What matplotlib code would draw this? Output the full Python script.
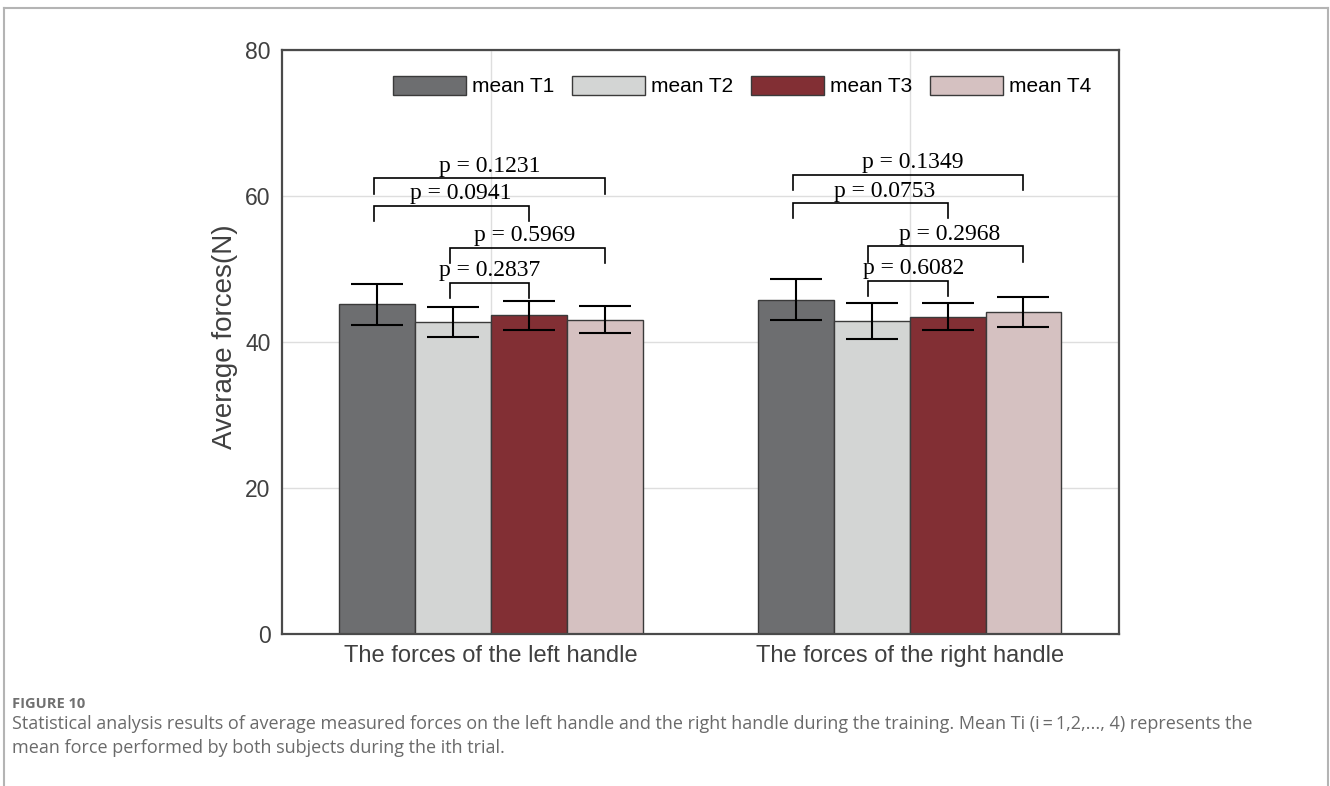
#!/usr/bin/env python3
"""Average handle forces per trial, grouped bars with p-value brackets"""

import numpy as np
import matplotlib
matplotlib.use('Agg')
import matplotlib.pyplot as plt
from matplotlib.lines import Line2D

# data
handles = ['The forces of the left handle', 'The forces of the right handle']
trials = ['mean T1', 'mean T2', 'mean T3', 'mean T4']
mean_t1 = [45.2, 45.8]
mean_t2 = [42.7, 42.9]
mean_t3 = [43.7, 43.5]
mean_t4 = [43.1, 44.1]
err_t1 = [2.8, 2.8]
err_t2 = [2.05, 2.5]
err_t3 = [2.0, 1.9]
err_t4 = [1.8, 2.05]

# significance brackets: handle, first trial, second trial, bracket height, p
br_handle = [0, 0, 0, 0, 1, 1, 1, 1]
br_from = [0, 0, 1, 1, 0, 0, 1, 1]
br_to = [3, 2, 3, 2, 3, 2, 3, 2]
br_top = [62.45, 58.67, 52.88, 48.1, 62.9, 59.03, 53.1, 48.4]
br_p = ['0.1231', '0.0941', '0.5969', '0.2837',
        '0.1349', '0.0753', '0.2968', '0.6082']
br_text_shift = [0.0, 0.021, -0.007, 0.0, 0.011, 0.035, 0.008, 0.013]

caption_title = 'FIGURE 10'
caption_lines = [
  'Statistical analysis results of average measured forces on the left handle and the right handle during the training. Mean Ti (i\u2009=\u20091,2,..., 4) represents the',
  'mean force performed by both subjects during the ith trial.',
]

colors = ['#6d6e70', '#d3d5d4', '#822f34', '#d5c1c1']
edge = '#3a3a3a'
tick_gray = '#404040'

means = [mean_t1, mean_t2, mean_t3, mean_t4]
errs = [err_t1, err_t2, err_t3, err_t4]

fig = plt.figure(figsize=(13.3, 7.86), dpi=100)
ax = fig.add_axes([0.2118, 0.193, 0.6296, 0.7434])

x = np.arange(1, len(handles) + 1)
width = 0.181
offsets = (np.arange(len(trials)) - 1.5) * width

for i in range(len(trials)):
  ax.bar(x + offsets[i], means[i], width, color=colors[i], edgecolor=edge,
         linewidth=1.0, label=trials[i], zorder=2,
         yerr=errs[i], capsize=18.5,
         error_kw=dict(ecolor='black', elinewidth=1.5, capthick=1.5, zorder=3))

leg = 2.1
for k in range(len(br_p)):
  x0 = x[br_handle[k]] + offsets[br_from[k]] - 0.008
  x1 = x[br_handle[k]] + offsets[br_to[k]]
  top = br_top[k]
  ax.plot([x0, x0, x1, x1], [top - leg, top, top, top - leg],
          color='black', linewidth=1.2, zorder=4, solid_joinstyle='miter')
  ax.text((x0 + x1) / 2 + br_text_shift[k], top + 0.9, 'p = ' + br_p[k],
          ha='center', va='baseline', fontsize=17,
          family='Liberation Serif', color='black', zorder=5)

ax.set_xlim(0.5, 2.5)
ax.set_ylim(0, 80)
ax.set_xticks(x)
ax.set_xticklabels(handles)
ax.set_yticks([0, 20, 40, 60, 80])
ax.tick_params(axis='both', length=0, labelsize=16.5, labelcolor=tick_gray,
               pad=8)
for lbl in ax.get_xticklabels():
  lbl.set_fontsize(17)
ax.set_ylabel('Average forces(N)', fontsize=20, color=tick_gray, va='center')
ax.yaxis.set_label_coords(-0.0677, 0.51)

ax.grid(True, color='#dedede', linewidth=1.0)
ax.set_axisbelow(True)
for sp in ax.spines.values():
  sp.set_color('#4a4a4a')
  sp.set_linewidth(1.6)
  sp.set_zorder(6)

ax.legend(loc='center', bbox_to_anchor=(0.5497, 0.938), ncol=4,
          frameon=False, fontsize=15, handlelength=3.5, handleheight=1.0,
          handletextpad=0.3, columnspacing=0.85, borderaxespad=0)

for t in ax.get_xticklabels() + ax.get_yticklabels():
  t.set_family(['Liberation Sans', 'DejaVu Sans'])
ax.yaxis.label.set_family(['Liberation Sans', 'DejaVu Sans'])
for t in ax.get_legend().get_texts():
  t.set_family(['Liberation Sans', 'DejaVu Sans'])

# page frame
W, H = 1330.0, 786.0
frame_kw = dict(color='#b4b4b4', linewidth=1.5, transform=fig.transFigure)
fig.add_artist(Line2D([4 / W, 4 / W], [0, 1 - 8 / H], **frame_kw))
fig.add_artist(Line2D([4 / W, 1328 / W], [1 - 8 / H, 1 - 8 / H], **frame_kw))
fig.add_artist(Line2D([1328 / W, 1328 / W], [0, 1 - 8 / H], **frame_kw))

# caption
fig.text(12 / W, 1 - 704 / H, caption_title, fontsize=10.5, fontweight='bold',
         color='#707070', family='Open Sans', va='center')
fig.text(12 / W, 1 - 724 / H, caption_lines[0], fontsize=13,
         color='#6a6a6a', family=['Open Sans', 'DejaVu Sans'], va='center')
fig.text(12 / W, 1 - 748 / H, caption_lines[1], fontsize=13,
         color='#6a6a6a', family=['Open Sans', 'DejaVu Sans'], va='center')

fig.savefig('out.png', dpi=100, facecolor='white')
